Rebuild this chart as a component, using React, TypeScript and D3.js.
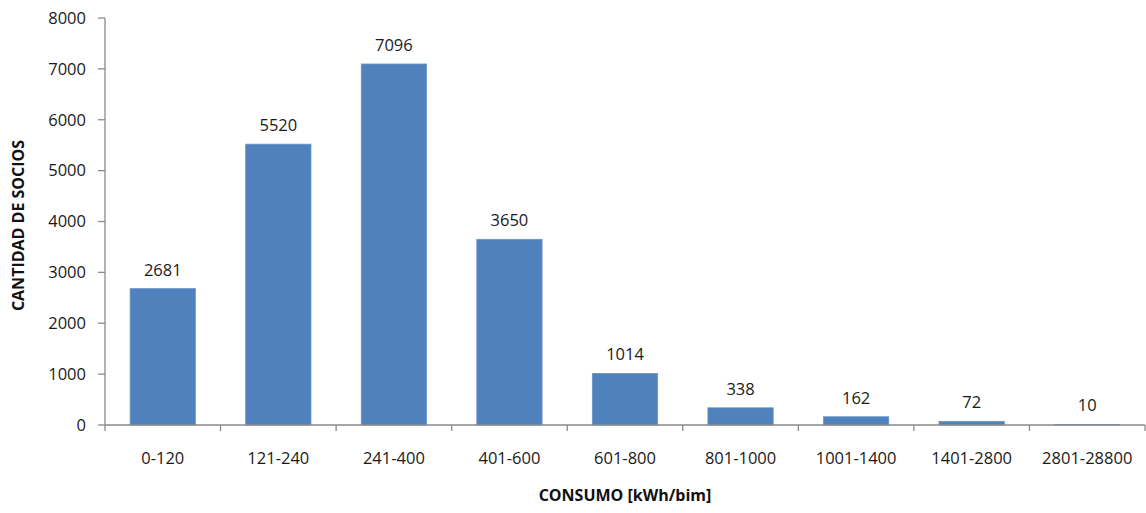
import * as d3 from "d3";

const categories = [
  "0-120",
  "121-240",
  "241-400",
  "401-600",
  "601-800",
  "801-1000",
  "1001-1400",
  "1401-2800",
  "2801-28800",
];
const socios = [2681, 5520, 7096, 3650, 1014, 338, 162, 72, 10];
const yTicks = [0, 1000, 2000, 3000, 4000, 5000, 6000, 7000, 8000];

const W = 1146;
const H = 513;
const margin = { top: 18, right: 1, bottom: 88, left: 105 };
const font = "'Open Sans', 'Noto Sans', sans-serif";

export default function App() {
  const innerW = W - margin.left - margin.right;
  const innerH = H - margin.top - margin.bottom;

  const x = d3.scaleBand<string>().domain(categories).range([0, innerW]);
  const y = d3.scaleLinear().domain([0, 8000]).range([innerH, 0]);
  const barW = x.bandwidth() * 0.565;

  return (
    <svg
      width={W}
      height={H}
      style={{ position: "absolute", left: 0, top: 0, background: "#fff" }}
      fontFamily={font}
    >
      <g transform={`translate(${margin.left},${margin.top})`}>
        {/* barras */}
        {categories.map((c, i) => {
          const cx = (x(c) ?? 0) + x.bandwidth() / 2;
          return (
            <g key={c}>
              <rect
                x={cx - barW / 2}
                y={y(socios[i])}
                width={barW}
                height={innerH - y(socios[i])}
                fill="#4F81BD"
                stroke="#6A95C9"
                strokeWidth={0.8}
              />
              <text
                x={cx}
                y={y(socios[i]) - 13}
                textAnchor="middle"
                fontSize={16.5}
                fill="#1a1a1a"
              >
                {socios[i]}
              </text>
            </g>
          );
        })}

        {/* eje y */}
        <line x1={0} x2={0} y1={0} y2={innerH} stroke="#8a8a8a" strokeWidth={1.3} />
        {yTicks.map((t) => (
          <g key={t} transform={`translate(0,${y(t)})`}>
            <line x1={-7} x2={0} stroke="#8a8a8a" strokeWidth={1.3} />
            <text x={-19} dy="0.35em" textAnchor="end" fontSize={16.5} fill="#1a1a1a">
              {t}
            </text>
          </g>
        ))}

        {/* eje x */}
        <line x1={0} x2={innerW} y1={innerH} y2={innerH} stroke="#8a8a8a" strokeWidth={1.3} />
        {categories.map((c, i) => (
          <line
            key={"t" + i}
            x1={(x(c) ?? 0) + x.bandwidth()}
            x2={(x(c) ?? 0) + x.bandwidth()}
            y1={innerH}
            y2={innerH + 6}
            stroke="#8a8a8a"
            strokeWidth={1.3}
          />
        ))}
        <line x1={0} x2={0} y1={innerH} y2={innerH + 6} stroke="#8a8a8a" strokeWidth={1.3} />
        {categories.map((c) => (
          <text
            key={"l" + c}
            x={(x(c) ?? 0) + x.bandwidth() / 2}
            y={innerH + 39}
            textAnchor="middle"
            fontSize={16.5}
            fill="#1a1a1a"
          >
            {c}
          </text>
        ))}
      </g>

      {/* títulos */}
      <text
        x={520 + margin.left}
        y={501}
        textAnchor="middle"
        fontSize={16}
        fontWeight="bold"
        fill="#111"
      >
        CONSUMO [kWh/bim]
      </text>
      <text
        transform={`translate(24,${margin.top + innerH / 2 + 4}) rotate(-90)`}
        textAnchor="middle"
        fontSize={16}
        fontWeight="bold"
        fill="#111"
      >
        CANTIDAD DE SOCIOS
      </text>
    </svg>
  );
}
